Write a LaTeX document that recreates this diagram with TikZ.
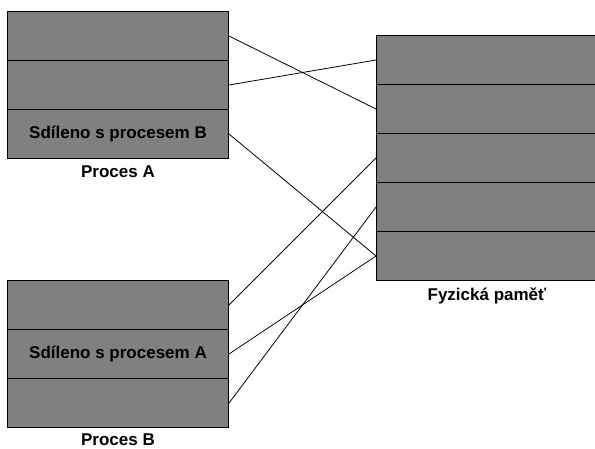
\documentclass[tikz,border=0pt]{standalone}
\usepackage{fontspec}
\setmainfont{Liberation Sans}
\begin{document}
\begin{tikzpicture}[x=1pt,y=-1pt,
  cell/.style={draw=black, fill=cellgray, line width=1pt, minimum width=221pt, minimum height=49pt, inner sep=0pt, anchor=north west, font=\fontsize{17}{19}\selectfont\bfseries},
  pcell/.style={cell, minimum width=230pt},
  lbl/.style={font=\fontsize{17}{19}\selectfont\bfseries, inner sep=0pt},
  conn/.style={draw=black, line width=0.8pt}]
\definecolor{cellgray}{RGB}{128,128,128}
\useasboundingbox (0,0) rectangle (595,448);
\clip (0,0) rectangle (595,448);
% Proces A
\node[cell] (a1) at (7,11) {};
\node[cell] (a2) at (7,60) {};
\node[cell] (a3) at (7,109) {Sdíleno s procesem B};
\node[lbl] (la) at (118,172) {Proces A};
% Proces B
\node[cell] (b1) at (7,280) {};
\node[cell] (b2) at (7,329) {Sdíleno s procesem A};
\node[cell] (b3) at (7,378) {};
\node[lbl] (lb) at (118,440) {Proces B};
% Fyzicka pamet
\node[pcell] (p1) at (376,35) {};
\node[pcell] (p2) at (376,84) {};
\node[pcell] (p3) at (376,133) {};
\node[pcell] (p4) at (376,182) {};
\node[pcell] (p5) at (376,231) {};
\node[lbl] (lp) at (487,296) {Fyzická paměť};
% connectors
\draw[conn] (a1.east) -- (p2.west);
\draw[conn] (a2.east) -- (p1.west);
\draw[conn] (a3.east) -- (p5.west);
\draw[conn] (b1.east) -- (p3.west);
\draw[conn] (b2.east) -- (p5.west);
\draw[conn] (b3.east) -- (p4.west);
\end{tikzpicture}
\end{document}
